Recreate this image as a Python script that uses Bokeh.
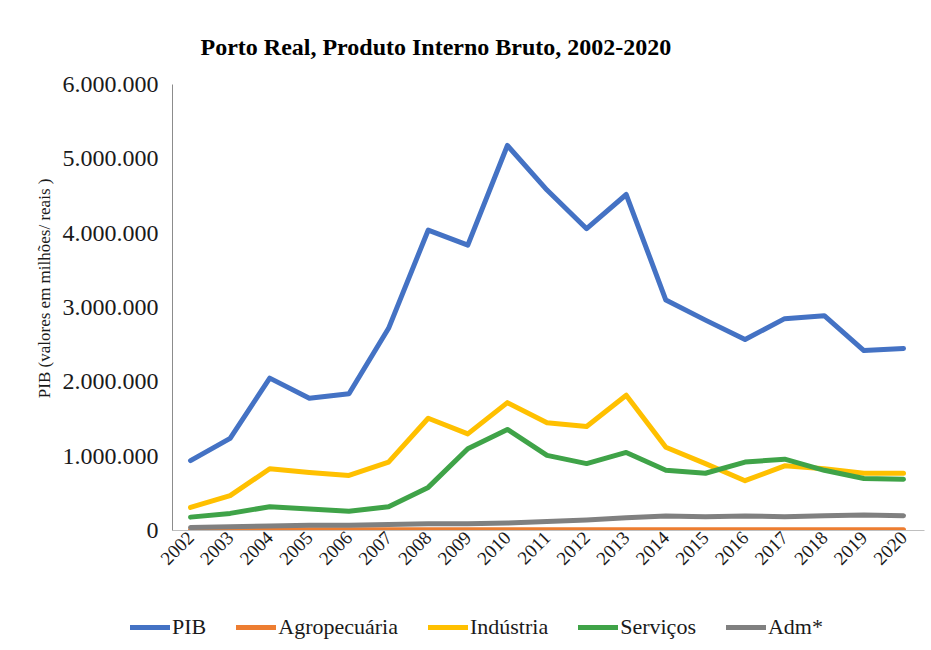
import math
from bokeh.plotting import figure
from bokeh.layouts import column, row
from bokeh.models import (Range1d, FixedTicker, CustomJSTickFormatter, Legend, LegendItem)
from bokeh.embed import file_html
from bokeh.resources import INLINE

years = list(range(2002, 2021))
pib = [940000, 1240000, 2050000, 1780000, 1840000, 2720000, 4040000, 3840000, 5180000,
       4580000, 4060000, 4520000, 3100000, 2830000, 2570000, 2850000, 2890000, 2420000, 2450000]
agro = [8000, 8000, 9000, 9000, 9000, 10000, 10000, 10000, 10000,
        10000, 10000, 10000, 10000, 10000, 10000, 10000, 10000, 10000, 10000]
industria = [310000, 470000, 830000, 780000, 740000, 920000, 1510000, 1300000, 1720000,
             1450000, 1400000, 1820000, 1120000, 900000, 670000, 870000, 830000, 770000, 770000]
servicos = [180000, 230000, 320000, 290000, 260000, 320000, 580000, 1100000, 1360000,
            1010000, 900000, 1050000, 810000, 770000, 920000, 960000, 810000, 700000, 690000]
adm = [40000, 50000, 60000, 70000, 70000, 80000, 90000, 90000, 100000,
       120000, 140000, 170000, 195000, 185000, 195000, 185000, 200000, 210000, 200000]

series = [
    ("PIB", pib, "#4472C4"),
    ("Agropecuária", agro, "#ED7D31"),
    ("Indústria", industria, "#FFC000"),
    ("Serviços", servicos, "#3FA348"),
    ("Adm*", adm, "#808080"),
]
y_ticks = [0, 1000000, 2000000, 3000000, 4000000, 5000000, 6000000]

FONT = "Liberation Serif"

p = figure(width=931, height=600, output_backend="svg", toolbar_location=None,
           x_range=Range1d(2001.545, 2020.53), y_range=Range1d(0, 6000000),
           min_border_left=172, min_border_right=7, min_border_top=84, min_border_bottom=70,
           title="Porto Real, Produto Interno Bruto, 2002-2020")
p.title.text_font = FONT
p.title.text_font_size = "24px"
p.title.text_font_style = "bold"
p.title.align = "left"
p.title.offset = 28
p.title.standoff = 50
p.title.text_color = "#000000"

p.grid.visible = False
p.outline_line_color = None
p.background_fill_color = "white"
p.border_fill_color = "white"

# y axis
ya = p.yaxis[0]
ya.ticker = FixedTicker(ticks=y_ticks)
ya.formatter = CustomJSTickFormatter(code="""
    return Math.round(tick).toString().replace(/\\B(?=(\\d{3})+(?!\\d))/g, ".");
""")
ya.major_label_text_font = FONT
ya.major_label_text_font_size = "24px"
ya.major_label_text_color = "#1a1a1a"
ya.major_tick_out = 0
ya.major_tick_in = 0
ya.minor_tick_out = 0
ya.minor_tick_in = 0
ya.major_label_standoff = 14
ya.axis_line_color = "#8c8c8c"
ya.axis_label = "\u00a0" * 9 + "PIB (valores em milhões/ reais )"
ya.axis_label_text_font = FONT
ya.axis_label_text_font_size = "17px"
ya.axis_label_text_font_style = "normal"
ya.axis_label_text_color = "#1a1a1a"
ya.axis_label_standoff = 6

# x axis
xa = p.xaxis[0]
xa.ticker = FixedTicker(ticks=years)
xa.major_label_orientation = math.pi / 4
xa.major_label_text_font = FONT
xa.major_label_text_font_size = "19px"
xa.major_label_text_color = "#1a1a1a"
xa.major_tick_out = 0
xa.major_tick_in = 0
xa.minor_tick_out = 0
xa.minor_tick_in = 0
xa.major_label_standoff = 4
xa.axis_line_color = "#bfbfbf"

for name, vals, color in series:
    p.line(years, vals, line_color=color, line_width=5, line_join="round", line_cap="round")

# legend strip (its lines lie outside its own visible range; only the legend shows)
p2 = figure(width=931, height=50, output_backend="svg", toolbar_location=None,
            x_range=Range1d(0, 1), y_range=Range1d(0, 1),
            x_axis_location=None, y_axis_location=None,
            min_border_left=0, min_border_right=0, min_border_top=0, min_border_bottom=0)
p2.grid.visible = False
p2.outline_line_color = None
p2.border_fill_color = "white"

items = []
for name, vals, color in series:
    r = p2.line(years, vals, line_color=color, line_width=5, line_cap="round")
    items.append(LegendItem(label=name, renderers=[r]))

legend = Legend(items=items, orientation="horizontal", location=(130, 10),
                label_text_font=FONT, label_text_font_size="22px", label_text_color="#1a1a1a",
                glyph_width=40, glyph_height=22, label_standoff=2, spacing=30,
                padding=0, margin=0, border_line_color=None, background_fill_alpha=0)
p2.add_layout(legend, "center")

layout = column(p, row(p2, spacing=0), spacing=0)
open("out.html", "w").write(file_html(layout, INLINE))
